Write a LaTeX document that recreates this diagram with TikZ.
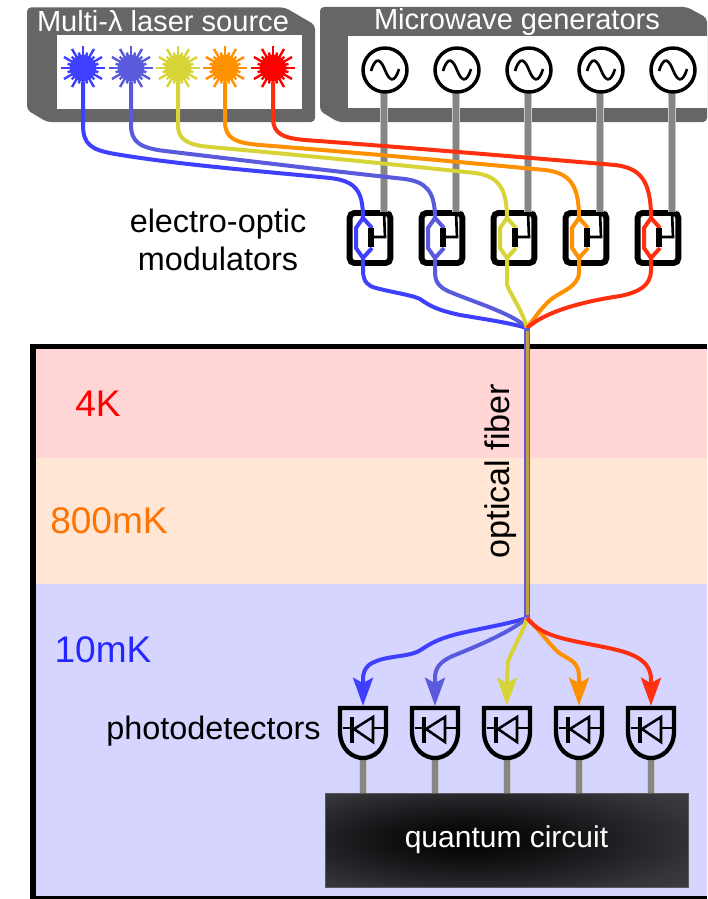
\documentclass[tikz,border=0pt]{standalone}
\usepackage{fontspec}
\setmainfont{Liberation Sans}
\usetikzlibrary{arrows.meta}

\definecolor{blueA}{HTML}{3F3FFF}
\definecolor{blueB}{HTML}{5A5ADC}
\definecolor{yellowC}{HTML}{D6D436}
\definecolor{orangeD}{HTML}{FF9000}
\definecolor{redE}{HTML}{FF3010}
\definecolor{boxgray}{HTML}{666666}
\definecolor{fibercore}{HTML}{C8A040}
\definecolor{stageA}{HTML}{FFD5D5}
\definecolor{stageB}{HTML}{FFE6D5}
\definecolor{stageC}{HTML}{D5D5FF}
\pgfdeclareradialshading{qcshade}{\pgfpoint{-6bp}{0bp}}{rgb(0bp)=(0,0,0);rgb(12bp)=(0.07,0.07,0.08);rgb(30bp)=(0.20,0.20,0.22);rgb(50bp)=(0.29,0.29,0.32);rgb(70bp)=(0.38,0.38,0.42)}

\tikzset{
	beam/.style={line width=3pt,line join=round},
	wire/.style={line width=4.2pt,draw=gray!95,preaction={draw=gray!45,line width=5.6pt}},
	header/.style={text=white,font=\fontsize{21.8}{24}\selectfont},
	caption/.style={font=\fontsize{24.3}{28}\selectfont},
	tempmark/.style={font=\fontsize{27.8}{30}\selectfont},
	oscillator/.style={circle,draw=black,fill=white,line width=2.6pt,minimum size=33pt,inner sep=0pt},
	modulator/.style={draw=black,line width=4.4pt,rounded corners=3.5pt,minimum width=30.5pt,minimum height=37.5pt,inner sep=0pt},
	detector/.style={inner sep=0pt,minimum size=0pt},
	tip/.style={-{Stealth[length=21pt,width=15pt,inset=4pt]}}
}

\begin{document}
\begin{tikzpicture}[x=0.75pt,y=-0.75pt]
\useasboundingbox (0,0) rectangle (707,899);

%----------------------------
% Cryostat stages
%----------------------------
\fill[stageA] (33,347) rectangle (707,458);
\fill[stageB] (33,458) rectangle (707,584);
\fill[stageC] (33,584) rectangle (707,899);
\draw[line width=4.2pt] (707,346.5) -- (33,346.5) -- (33,899) -- (707,899);

\node[tempmark,text=red] (t4k) at (98,404) {4K};
\node[tempmark,text=orange!90!red] (t800) at (109,521) {800mK};
\node[tempmark,text=blue!85!white] (t10) at (103,650) {10mK};

%----------------------------
% Source boxes
%----------------------------
\fill[boxgray,rounded corners=3pt] (27,7.5) -- (285,7.5) -- (315,25) -- (315,122) -- (47,122) -- (27,110) -- cycle;
\fill[white] (57,35) rectangle (302,109);
\node[header] (lasertitle) at (163,21) {Multi-λ laser source};

\fill[boxgray,rounded corners=3pt] (320,7) -- (687,7) -- (707,18) -- (707,122) -- (338,122) -- (320,111) -- cycle;
\fill[white] (348,36) rectangle (707,108);
\node[header] (mwtitle) at (517,22) {Microwave generators};

%----------------------------
% Generators and modulators
%----------------------------
\foreach \i/\x in {1/370,2/442,3/514,4/586,5/658}{
	\node[modulator] (eom\i) at (\x,238) {};
	\coordinate (eomin\i) at (\x-7,218);
	\coordinate (eomout\i) at (\x-7,258);
	\coordinate (eomtop\i) at (\x+14,212);
	\draw[wire] (\x+14,93) -- (eomtop\i);
}
\foreach \i/\x in {1/385,2/457,3/529,4/601,5/673}{
	\node[oscillator] (osc\i) at (\x,70) {};
	\draw[line width=2pt] (\x-14,71) .. controls (\x-9,55) and (\x-4,60) .. (\x,70) .. controls (\x+4,80) and (\x+9,85) .. (\x+14,69);
}

% Detectors
\foreach \i/\x in {1/363,2/435,3/507,4/579,5/651}{
	\node[detector] (pd\i) at (\x,706) {};
	\node[detector] (pdout\i) at (\x,760) {};
	\node[detector] (qc\i) at (\x,793) {};
	\draw[wire] (pdout\i) -- (qc\i);
	\draw[line width=3.2pt,line join=miter] (\x-23,708) -- (\x+23,708) -- (\x+23,731) .. controls (\x+23,750) and (\x+10,758) .. (\x,758) .. controls (\x-10,758) and (\x-23,750) .. (\x-23,731) -- cycle;
	\draw[line width=1.9pt] (\x-20,728) -- (\x-11,728) (\x+10,728) -- (\x+23,728);
	\draw[line width=2.6pt] (\x-11,717) -- (\x-11,743);
	\draw[line width=1.9pt,line join=miter] (\x-9,729) -- (\x+10,717) -- (\x+10,742) -- cycle;
}

%----------------------------
% Lasers
%----------------------------
\foreach \i/\x/\c in {1/83/blueA,2/131/blueB,3/178/yellowC,4/225/orangeD,5/273/red}{
	\foreach \a in {0,30,...,330}
		\draw[\c,line width=1.8pt] (\x,68) -- ++(\a:22);
	\foreach \a in {15,45,...,345}
		\draw[\c,line width=1.8pt] (\x,68) -- ++(\a:16);
	\node[circle,fill=\c,minimum size=20pt,inner sep=0pt] (las\i) at (\x,68) {};
}

%----------------------------
% Fiber from lasers to modulators
%----------------------------
\coordinate (fibtop) at (527,328);
\coordinate (fibbot) at (527,618);

\draw[beam,blueA] (las1) -- (83,125) .. controls (83,145) and (92,150) .. (115,154)
	.. controls (180,165) and (270,172) .. (330,178) .. controls (355,181) and (363,190) .. (eomin1);
\draw[beam,blueB] (las2) -- (131,125) .. controls (131,142) and (140,148) .. (165,151)
	.. controls (240,160) and (340,172) .. (405,179) .. controls (425,182) and (435,190) .. (eomin2);
\draw[beam,yellowC] (las3) -- (178,125) .. controls (178,140) and (188,145) .. (210,147)
	.. controls (300,155) and (400,165) .. (475,173) .. controls (498,176) and (507,188) .. (eomin3);
\draw[beam,orangeD] (las4) -- (225,122) .. controls (225,138) and (235,143) .. (260,145)
	.. controls (350,152) and (460,162) .. (545,170) .. controls (570,173) and (579,185) .. (eomin4);
\draw[beam,redE] (las5) -- (273,118) .. controls (273,134) and (283,138) .. (305,140)
	.. controls (400,147) and (520,157) .. (615,165) .. controls (640,168) and (651,180) .. (eomin5);

% Mach-Zehnder arms and electrodes
\foreach \i/\x/\c in {1/370/blueA,2/442/blueB,3/514/yellowC,4/586/orangeD,5/658/redE}{
	\draw[beam,\c] (eomin\i) -- (\x-14,228) -- (\x-14,248) -- (eomout\i);
	\draw[beam,\c] (\x+2,228) -- (eomin\i) (\x+2,248) -- (eomout\i);
	\draw[line width=5pt] (\x+1,228) -- (\x+1,247);
	\draw[line width=2pt] (\x+1,237) -- (\x+15,237) -- (eomtop\i);
}

%----------------------------
% Fan-in to a single fiber
%----------------------------
\draw[beam,blueA] (eomout1) -- (363,270) .. controls (363,282) and (368,286) .. (376,288)
	.. controls (395,293) and (412,295) .. (420,299) .. controls (430,306) and (437,310) .. (460,315)
	.. controls (490,320) and (510,323) .. (fibtop);
\draw[beam,blueB] (eomout2) -- (435,272) .. controls (435,285) and (442,289) .. (455,294)
	.. controls (480,304) and (515,315) .. (fibtop);
\draw[beam,yellowC] (eomout3) -- (507,285) .. controls (512,297) and (523,312) .. (fibtop);
\draw[beam,orangeD] (eomout4) -- (579,272) .. controls (579,288) and (558,292) .. (548,302) .. controls (540,310) and (533,320) .. (fibtop);
\draw[beam,redE] (eomout5) -- (651,270) .. controls (651,285) and (640,292) .. (620,296) .. controls (580,302) and (545,312) .. (fibtop);

% Fiber through the stages
\draw[line width=4pt,blueB] (fibtop) -- (fibbot);
\draw[line width=1.8pt,fibercore] (527.5,331) -- (527.5,615);
\node[caption,font=\fontsize{25.6}{28}\selectfont,rotate=90] (fiberlabel) at (501,471) {optical fiber};

%----------------------------
% Fan-out to the detectors
%----------------------------
\draw[beam,tip,blueA] (fibbot) .. controls (505,625) and (470,630) .. (450,636)
	.. controls (430,642) and (425,648) .. (417,652) .. controls (405,657) and (385,656) .. (372,663)
	.. controls (365,667) and (363,672) .. (363,680) -- (pd1);
\draw[beam,tip,blueB] (fibbot) .. controls (510,632) and (480,645) .. (455,655)
	.. controls (440,661) and (435,668) .. (435,678) -- (pd2);
\draw[beam,tip,yellowC] (fibbot) .. controls (524,630) and (512,650) .. (508,662) -- (507,680) -- (pd3);
\draw[beam,tip,orangeD] (fibbot) .. controls (535,625) and (550,645) .. (558,652)
	.. controls (568,660) and (579,660) .. (579,677) -- (pd4);
\draw[beam,tip,redE] (fibbot) .. controls (535,628) and (545,634) .. (565,639)
	.. controls (590,645) and (615,648) .. (630,654) .. controls (645,660) and (651,668) .. (651,680) -- (pd5);

%----------------------------
% Labels and circuit
%----------------------------
\node[caption,align=center] (eomlabel) at (218,240) {electro-optic\\modulators};
\node[caption] (pdlabel) at (213.5,731) {photodetectors};

\node[rectangle,draw=gray!70!black,line width=0.5pt,shading=qcshade,minimum width=272pt,minimum height=70.5pt,text=white,font=\fontsize{22.5}{24}\selectfont] (qcirc) at (506.5,840) {quantum circuit};

\end{tikzpicture}
\end{document}
